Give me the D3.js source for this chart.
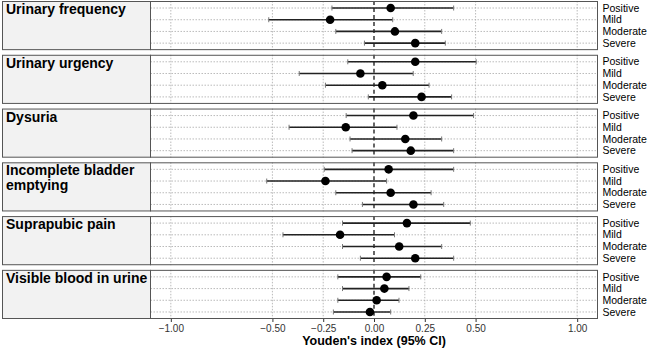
<!DOCTYPE html>
<html>
<head>
<meta charset="utf-8">
<script src="https://cdn.jsdelivr.net/npm/d3@7"></script>
<style>
  body { margin: 0; background: #fff; }
  svg { display: block; font-family: "Liberation Sans", Arial, sans-serif; }
</style>
</head>
<body>
<svg id="chart" width="649" height="352"></svg>
<script>
// symptoms shown as facet strips, top to bottom
const symptoms = ["Urinary frequency", "Urinary urgency", "Dysuria",
  "Incomplete bladder emptying", "Suprapubic pain", "Visible blood in urine"];
const levels = ["Positive", "Mild", "Moderate", "Severe"];
const tickValues = [-1, -0.5, -0.25, 0, 0.25, 0.5, 1];

// Youden's index estimate and 95% CI, one row per symptom (order = levels)
const estimates = [
  [0.082, -0.216, 0.103, 0.203],
  [0.203, -0.067, 0.041, 0.234],
  [0.194, -0.139, 0.154, 0.181],
  [0.072, -0.239, 0.082, 0.194],
  [0.162, -0.167, 0.124, 0.203],
  [0.062, 0.051, 0.013, -0.020]
];
const lower = [
  [-0.207, -0.518, -0.188, -0.047],
  [-0.129, -0.368, -0.239, -0.028],
  [-0.137, -0.418, -0.118, -0.108],
  [-0.245, -0.528, -0.188, -0.057],
  [-0.155, -0.448, -0.155, -0.067],
  [-0.178, -0.155, -0.178, -0.200]
];
const upper = [
  [0.392, 0.092, 0.333, 0.351],
  [0.503, 0.193, 0.271, 0.382],
  [0.490, 0.113, 0.333, 0.392],
  [0.392, 0.062, 0.281, 0.343],
  [0.474, 0.101, 0.333, 0.392],
  [0.230, 0.172, 0.123, 0.082]
];

const stripX = 2, plotLeft = 150.5, plotRight = 597.5;
const svg = d3.select("#chart");

const x = d3.scaleLinear().domain([-1.1, 1.1]).range([plotLeft, plotRight]);

const panelScale = d3.scaleBand()
  .domain(symptoms)
  .range([1, 319])
  .paddingInner(0.086);

const bw = panelScale.bandwidth();
const y = d3.scalePoint().domain(levels).range([0, bw]).padding(0.6);

const fmt = d3.format(".2f");

symptoms.forEach((s, i) => {
  const top = panelScale(s);
  const g = svg.append("g").attr("transform", `translate(0,${top})`);

  // strip on the left
  g.append("rect")
    .attr("x", stripX + 0.5).attr("y", 0.5)
    .attr("width", plotLeft - stripX - 0.5).attr("height", bw - 1)
    .attr("fill", "#f2f2f2").attr("stroke", "#555").attr("stroke-width", 1);

  const words = s === "Incomplete bladder emptying" ? ["Incomplete bladder", "emptying"] : [s];
  const label = g.append("text")
    .attr("x", 6).attr("y", 13)
    .attr("font-size", 14).attr("font-weight", "bold").attr("fill", "#000");
  words.forEach((w, k) => {
    label.append("tspan").attr("x", 6).attr("dy", k === 0 ? 0 : 15).text(w);
  });

  // panel background + grid
  g.append("rect")
    .attr("x", plotLeft).attr("y", 0.5)
    .attr("width", plotRight - plotLeft).attr("height", bw - 1)
    .attr("fill", "#fff");

  g.selectAll("line.vgrid")
    .data(tickValues.filter(t => t !== 0))
    .join("line")
    .attr("class", "vgrid")
    .attr("x1", d => x(d)).attr("x2", d => x(d))
    .attr("y1", 0).attr("y2", bw)
    .attr("stroke", "#aaa").attr("stroke-width", 0.8)
    .attr("stroke-dasharray", "1.5,1.5");

  g.selectAll("line.hgrid")
    .data(levels)
    .join("line")
    .attr("class", "hgrid")
    .attr("x1", plotLeft).attr("x2", plotRight)
    .attr("y1", d => y(d)).attr("y2", d => y(d))
    .attr("stroke", "#aaa").attr("stroke-width", 0.8)
    .attr("stroke-dasharray", "1.5,1.5");

  // zero reference line
  g.append("line")
    .attr("x1", x(0)).attr("x2", x(0))
    .attr("y1", 0).attr("y2", bw)
    .attr("stroke", "#000").attr("stroke-width", 1.2)
    .attr("stroke-dasharray", "4,3");

  const rows = levels.map((lv, j) => ({
    level: lv, est: estimates[i][j], lo: lower[i][j], hi: upper[i][j]
  }));

  // error bars
  g.selectAll("line.ci")
    .data(rows)
    .join("line")
    .attr("class", "ci")
    .attr("x1", d => x(d.lo)).attr("x2", d => x(d.hi))
    .attr("y1", d => y(d.level)).attr("y2", d => y(d.level))
    .attr("stroke", "#222").attr("stroke-width", 1.6);

  ["lo", "hi"].forEach(k => {
    g.selectAll(`line.cap-${k}`)
      .data(rows)
      .join("line")
      .attr("class", `cap-${k}`)
      .attr("x1", d => x(d[k])).attr("x2", d => x(d[k]))
      .attr("y1", d => y(d.level) - 2.5).attr("y2", d => y(d.level) + 2.5)
      .attr("stroke", "#777").attr("stroke-width", 1);
  });

  g.selectAll("circle")
    .data(rows)
    .join("circle")
    .attr("cx", d => x(d.est)).attr("cy", d => y(d.level))
    .attr("r", 4.3).attr("fill", "#000");

  // panel border
  g.append("rect")
    .attr("x", plotLeft).attr("y", 0.5)
    .attr("width", plotRight - plotLeft).attr("height", bw - 1)
    .attr("fill", "none").attr("stroke", "#555").attr("stroke-width", 1);

  // level labels on the right
  g.selectAll("text.level")
    .data(levels)
    .join("text")
    .attr("class", "level")
    .attr("x", plotRight + 5).attr("y", d => y(d))
    .attr("dy", "0.35em")
    .attr("font-size", 10.5).attr("fill", "#000")
    .text(d => d);
});

// x axis under the last panel
const axisY = panelScale(symptoms[symptoms.length - 1]) + bw;
const xAxis = svg.append("g")
  .attr("transform", `translate(0,${axisY})`)
  .call(d3.axisBottom(x).tickValues(tickValues).tickFormat(fmt).tickSizeInner(3).tickSizeOuter(0));
xAxis.select(".domain").remove();
xAxis.selectAll(".tick line").attr("stroke", "#333");
xAxis.selectAll(".tick text")
  .attr("font-size", 10).attr("fill", "#333")
  .attr("font-family", "Liberation Sans, Arial, sans-serif")
  .attr("y", 5.5);

svg.append("text")
  .attr("x", x(0)).attr("y", 345)
  .attr("text-anchor", "middle")
  .attr("font-size", 12.5).attr("font-weight", "bold").attr("fill", "#000")
  .text("Youden's index (95% CI)");
</script>
</body>
</html>
